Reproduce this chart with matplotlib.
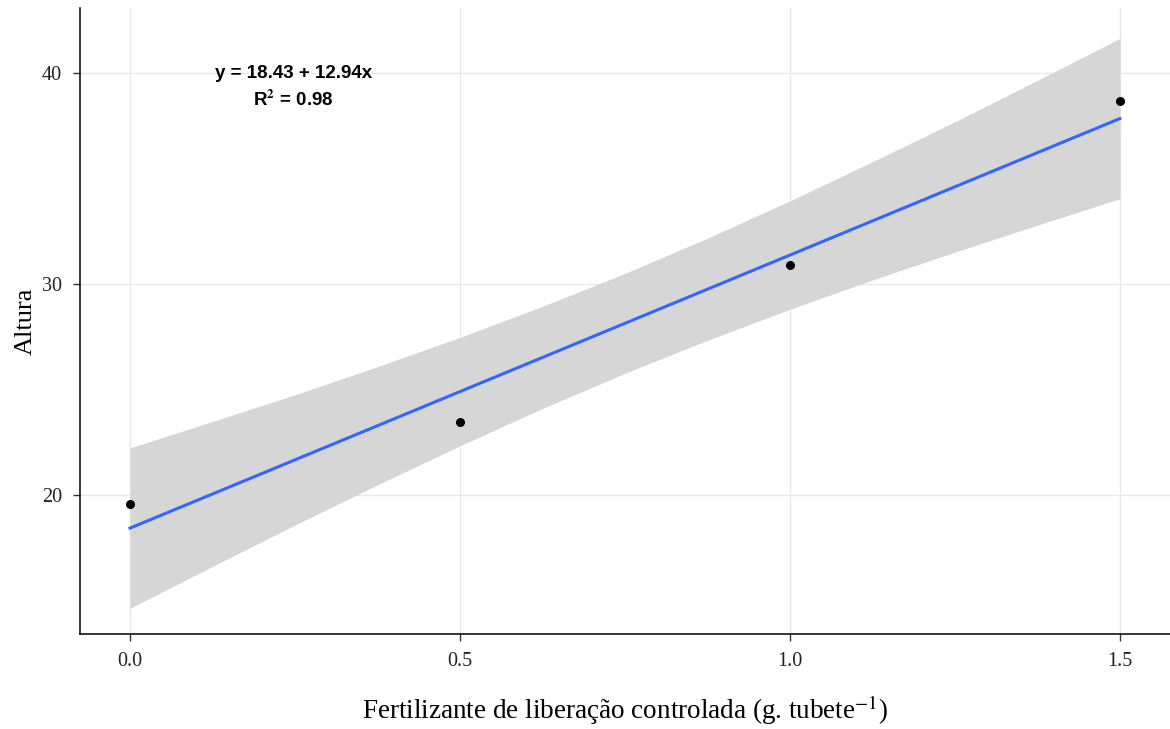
import numpy as np
import matplotlib.pyplot as plt

# dados (médias por dose)
doses = [0.0, 0.5, 1.0, 1.5]
altura = [19.57, 23.46, 30.90, 38.67]

# ajuste linear y = b0 + b1*x
b0 = 18.43
b1 = 12.94
r2 = 0.98

# intervalo de confiança
banda_x = [0.0, 0.125, 0.25, 0.375, 0.5, 0.625, 0.75,
           0.875, 1.0, 1.125, 1.25, 1.375, 1.5]
banda_inf = [14.63, 16.62, 18.58, 20.48, 22.33, 24.10, 25.77,
             27.33, 28.80, 30.19, 31.51, 32.79, 34.04]
banda_sup = [22.23, 23.48, 24.75, 26.08, 27.47, 28.94, 30.50,
             32.17, 33.94, 35.79, 37.69, 39.65, 41.64]

xticks = [0.0, 0.5, 1.0, 1.5]
yticks = [20, 30, 40]

plt.rcParams['font.family'] = ['Liberation Serif', 'DejaVu Serif']
plt.rcParams['mathtext.fontset'] = 'stix'

fig = plt.figure(figsize=(11.7, 7.29), dpi=100)
ax = fig.add_axes([0.0684, 0.1303, 0.9316, 0.8587])

ax.fill_between(banda_x, banda_inf, banda_sup, color='#d6d6d6', lw=0, zorder=2)
xf = np.array([doses[0], doses[-1]])
ax.plot(xf, b0 + b1 * xf, color='#3366FF', lw=2.2, zorder=3)
ax.scatter(doses, altura, s=30, color='black', zorder=4)

ax.set_xlim(-0.0758, 1.576)
ax.set_ylim(13.41, 43.08)
ax.set_xticks(xticks)
ax.set_xticklabels(['0.0', '0.5', '1.0', '1.5'])
ax.set_yticks(yticks)
ax.grid(True, color='#e8e8e8', lw=1.0, zorder=0)
ax.set_axisbelow(True)

for s in ['top', 'right']:
    ax.spines[s].set_visible(False)
for s in ['left', 'bottom']:
    ax.spines[s].set_color('black')
    ax.spines[s].set_linewidth(1.1)
ax.tick_params(length=5, width=1.0, color='#333333', labelsize=14.5,
               labelcolor='#222222', pad=8)

ax.set_xlabel('Fertilizante de liberação controlada (g. tubete$^{-1}$)',
              fontsize=19.5, labelpad=16)
ax.set_ylabel('Altura', fontsize=19, labelpad=4)

ax.text(0.248, 40.0, 'y = %.2f + %.2fx' % (b0, b1), ha='center', va='center',
        fontsize=13.5, fontweight='bold', family='Liberation Sans')
ax.text(0.248, 38.75, 'R$^\\mathbf{2}$ = %.2f' % r2, ha='center', va='center',
        fontsize=13.5, fontweight='bold', family='Liberation Sans')

fig.savefig('out.png', dpi=100)
